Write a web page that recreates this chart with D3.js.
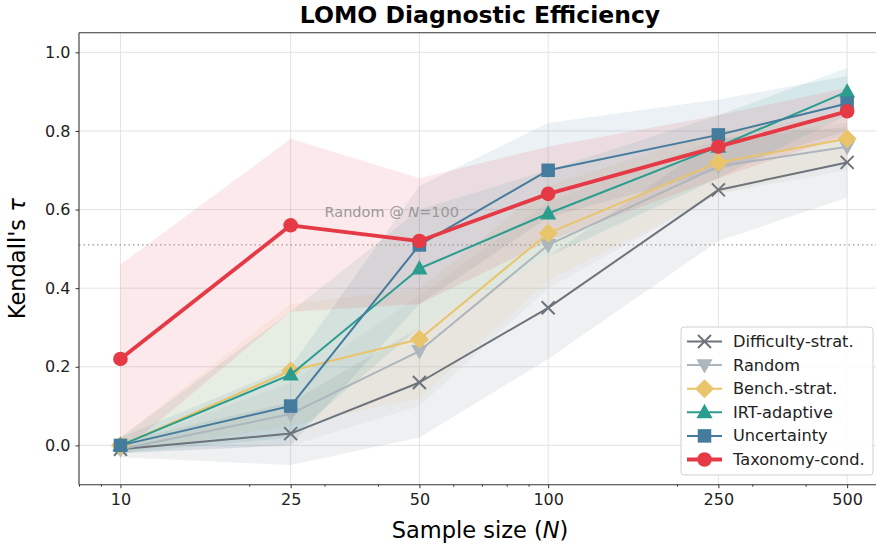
<!DOCTYPE html>
<html>
<head>
<meta charset="utf-8">
<script src="https://cdn.jsdelivr.net/npm/d3@7"></script>
<style>
  body { margin: 0; background: #fff; }
  svg { font-family: "DejaVu Sans", sans-serif; }
</style>
</head>
<body>
<div id="chart"></div>
<script>
// sample sizes on the x axis
const sampleSizes = [10, 25, 50, 100, 250, 500];
const xTickLabels = ["10", "25", "50", "100", "250", "500"];
const yTicks = [0.0, 0.2, 0.4, 0.6, 0.8, 1.0];

const seriesNames = ["Difficulty-strat.", "Random", "Bench.-strat.", "IRT-adaptive", "Uncertainty", "Taxonomy-cond."];

// mean Kendall's tau per method
const difficultyMean = [-0.01, 0.03, 0.16, 0.35, 0.65, 0.72];
const randomMean = [-0.01, 0.08, 0.24, 0.51, 0.71, 0.76];
const benchMean = [0.0, 0.19, 0.27, 0.54, 0.72, 0.78];
const irtMean = [0.0, 0.18, 0.45, 0.59, 0.76, 0.90];
const uncertaintyMean = [0.0, 0.10, 0.51, 0.70, 0.79, 0.87];
const taxonomyMean = [0.22, 0.56, 0.52, 0.64, 0.76, 0.85];

// band bounds (lower / upper)
const difficultyLow = [-0.03, -0.05, 0.02, 0.22, 0.52, 0.63];
const difficultyHigh = [0.01, 0.11, 0.30, 0.48, 0.78, 0.81];
const randomLow = [-0.02, 0.00, 0.10, 0.40, 0.64, 0.70];
const randomHigh = [0.00, 0.16, 0.38, 0.62, 0.78, 0.82];
const benchLow = [-0.02, 0.05, 0.12, 0.42, 0.64, 0.72];
const benchHigh = [0.02, 0.36, 0.40, 0.66, 0.80, 0.84];
const irtLow = [-0.02, 0.02, 0.30, 0.48, 0.68, 0.84];
const irtHigh = [0.02, 0.34, 0.60, 0.70, 0.84, 0.96];
const uncertaintyLow = [-0.02, 0.00, 0.36, 0.58, 0.70, 0.80];
const uncertaintyHigh = [0.02, 0.20, 0.66, 0.82, 0.88, 0.94];
const taxonomyLow = [-0.02, 0.34, 0.36, 0.52, 0.68, 0.79];
const taxonomyHigh = [0.46, 0.78, 0.68, 0.76, 0.84, 0.91];

const refValue = 0.51; // Random @ N=100

const W = 876, H = 544;
const svg = d3.select("#chart").append("svg")
    .attr("width", W).attr("height", H);

const x = d3.scaleLog().domain([8, 600]).range([79, 881]);
const y = d3.scaleLinear().domain([-0.1, 1.05]).range([484.7, 32.7]);

const series = [
    {name: seriesNames[0], color: "#6c737b", mean: difficultyMean, lo: difficultyLow, hi: difficultyHigh, marker: "x", lw: 2},
    {name: seriesNames[1], color: "#adb5bd", mean: randomMean, lo: randomLow, hi: randomHigh, marker: "tridown", lw: 2},
    {name: seriesNames[2], color: "#e9c46a", mean: benchMean, lo: benchLow, hi: benchHigh, marker: "diamond", lw: 2},
    {name: seriesNames[3], color: "#2a9d8f", mean: irtMean, lo: irtLow, hi: irtHigh, marker: "triup", lw: 2},
    {name: seriesNames[4], color: "#457b9d", mean: uncertaintyMean, lo: uncertaintyLow, hi: uncertaintyHigh, marker: "square", lw: 2},
    {name: seriesNames[5], color: "#e63946", mean: taxonomyMean, lo: taxonomyLow, hi: taxonomyHigh, marker: "circle", lw: 3.8}
];

// grid
const grid = svg.append("g");
grid.selectAll(".gy").data(yTicks).enter().append("line")
    .attr("x1", 79).attr("x2", 881)
    .attr("y1", d => y(d)).attr("y2", d => y(d))
    .attr("stroke", "#e3e3e3").attr("stroke-width", 1);
grid.selectAll(".gx").data(sampleSizes).enter().append("line")
    .attr("x1", d => x(d)).attr("x2", d => x(d))
    .attr("y1", y(1.05)).attr("y2", y(-0.1))
    .attr("stroke", "#e3e3e3").attr("stroke-width", 1);

// bands
const area = d3.area()
    .x((d, i) => x(sampleSizes[i]))
    .y0(d => y(d[0]))
    .y1(d => y(d[1]));
series.forEach(s => {
    svg.append("path")
        .datum(s.lo.map((v, i) => [v, s.hi[i]]))
        .attr("d", area)
        .attr("fill", s.color)
        .attr("fill-opacity", 0.11);
});

// reference line
svg.append("line")
    .attr("x1", 79).attr("x2", 881)
    .attr("y1", y(refValue)).attr("y2", y(refValue))
    .attr("stroke", "#999").attr("stroke-width", 1.2)
    .attr("stroke-dasharray", "1.5,3");
const refText = svg.append("text")
    .attr("x", x(30)).attr("y", y(refValue + 0.07))
    .attr("font-size", 14.5).attr("fill", "#999");
refText.append("tspan").text("Random @ ");
refText.append("tspan").attr("font-style", "italic").text("N");
refText.append("tspan").text("=100");

function drawMarker(g, type, cx, cy, color, scale) {
    const k = scale || 1;
    if (type === "circle") {
        g.append("circle").attr("cx", cx).attr("cy", cy).attr("r", 7.3 * k).attr("fill", color);
    } else if (type === "square") {
        const s = 13.5 * k;
        g.append("rect").attr("x", cx - s / 2).attr("y", cy - s / 2)
            .attr("width", s).attr("height", s).attr("fill", color);
    } else if (type === "diamond") {
        const r = 9.5 * k;
        g.append("path").attr("d", `M${cx},${cy - r}L${cx + r},${cy}L${cx},${cy + r}L${cx - r},${cy}Z`).attr("fill", color);
    } else if (type === "triup") {
        const r = 8.5 * k;
        g.append("path").attr("d", `M${cx},${cy - r}L${cx + r * 0.95},${cy + r * 0.7}L${cx - r * 0.95},${cy + r * 0.7}Z`).attr("fill", color);
    } else if (type === "tridown") {
        const r = 8.5 * k;
        g.append("path").attr("d", `M${cx},${cy + r}L${cx + r * 0.95},${cy - r * 0.7}L${cx - r * 0.95},${cy - r * 0.7}Z`).attr("fill", color);
    } else if (type === "x") {
        const r = 6.5 * k;
        g.append("path").attr("d", `M${cx - r},${cy - r}L${cx + r},${cy + r}M${cx - r},${cy + r}L${cx + r},${cy - r}`)
            .attr("stroke", color).attr("stroke-width", 2).attr("fill", "none");
    }
}

// lines + markers
const line = d3.line().x((d, i) => x(sampleSizes[i])).y(d => y(d));
series.forEach(s => {
    const g = svg.append("g");
    g.append("path").datum(s.mean).attr("d", line)
        .attr("fill", "none").attr("stroke", s.color)
        .attr("stroke-width", s.lw).attr("stroke-linejoin", "round");
    s.mean.forEach((v, i) => drawMarker(g, s.marker, x(sampleSizes[i]), y(v), s.color));
});

// spines
svg.append("line").attr("x1", 79).attr("x2", 79).attr("y1", 32.7).attr("y2", 484.7)
    .attr("stroke", "#333").attr("stroke-width", 1.1);
svg.append("line").attr("x1", 79).attr("x2", 881).attr("y1", 32.7).attr("y2", 32.7)
    .attr("stroke", "#333").attr("stroke-width", 1.1);
svg.append("line").attr("x1", 79).attr("x2", 881).attr("y1", 484.7).attr("y2", 484.7)
    .attr("stroke", "#333").attr("stroke-width", 1.1);

// x axis
const xAxis = d3.axisBottom(x)
    .tickValues(sampleSizes)
    .tickFormat((d, i) => xTickLabels[i])
    .tickSize(3.5).tickPadding(5);
const xg = svg.append("g").attr("transform", "translate(0,484.7)").call(xAxis);
xg.select(".domain").remove();
xg.selectAll("text").attr("font-size", 16).attr("fill", "#222").attr("font-family", "DejaVu Sans");
xg.selectAll("line").attr("stroke", "#333");
const minorTicks = [8, 9, 20, 30, 40, 60, 70, 80, 90, 200, 300, 400, 600];
const xm = d3.axisBottom(x).tickValues(minorTicks).tickFormat("").tickSize(2);
const xmg = svg.append("g").attr("transform", "translate(0,484.7)").call(xm);
xmg.select(".domain").remove();
xmg.selectAll("line").attr("stroke", "#333");

// y axis
const yAxis = d3.axisLeft(y).tickValues(yTicks).tickFormat(d3.format(".1f"))
    .tickSize(3.5).tickPadding(5);
const yg = svg.append("g").attr("transform", "translate(79,0)").call(yAxis);
yg.select(".domain").remove();
yg.selectAll("text").attr("font-size", 16).attr("fill", "#222").attr("font-family", "DejaVu Sans");
yg.selectAll("line").attr("stroke", "#333");

// title and labels
svg.append("text").attr("x", 480).attr("y", 23).attr("text-anchor", "middle")
    .attr("font-size", 23.5).attr("font-weight", "bold").text("LOMO Diagnostic Efficiency");
const xl = svg.append("text").attr("x", 480).attr("y", 538).attr("text-anchor", "middle")
    .attr("font-size", 22.5);
xl.append("tspan").text("Sample size (");
xl.append("tspan").attr("font-style", "italic").text("N");
xl.append("tspan").text(")");
const yl = svg.append("text")
    .attr("transform", `translate(25,${(32.7 + 484.7) / 2}) rotate(-90)`)
    .attr("text-anchor", "middle").attr("font-size", 22.5);
yl.append("tspan").text("Kendall's ");
yl.append("tspan").attr("font-style", "italic").text("τ");

// legend
const lg = svg.append("g").attr("transform", "translate(681,327)");
lg.append("rect").attr("width", 192).attr("height", 148).attr("rx", 3)
    .attr("fill", "#fff").attr("fill-opacity", 0.85)
    .attr("stroke", "#d0d0d0").attr("stroke-width", 1);
series.forEach((s, i) => {
    const cy = 14.5 + i * 23.6;
    lg.append("line").attr("x1", 6).attr("x2", 41).attr("y1", cy).attr("y2", cy)
        .attr("stroke", s.color).attr("stroke-width", s.lw);
    drawMarker(lg, s.marker, 23.5, cy, s.color);
    lg.append("text").attr("x", 52).attr("y", cy + 5.5).attr("font-size", 16.2)
        .attr("fill", "#222").text(s.name);
});
</script>
</body>
</html>
